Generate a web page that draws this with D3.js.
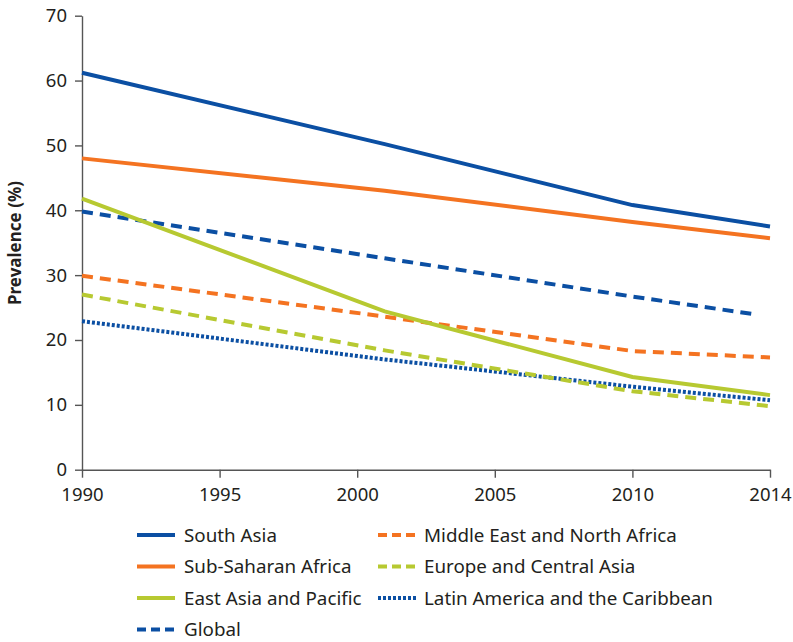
<!DOCTYPE html>
<html><head><meta charset="utf-8">
<script src="https://cdn.jsdelivr.net/npm/d3@7"></script>
<style>body{margin:0;background:#fff}svg{display:block}text{font-family:"Noto Sans",sans-serif;fill:#231f20}</style>
</head><body><svg id="c" width="793" height="642"></svg>
<script>
const tickYears = [1990, 1995, 2000, 2005, 2010, 2014];
const yTicks = [0, 10, 20, 30, 40, 50, 60, 70];
const seriesNames = ["South Asia", "Sub-Saharan Africa", "East Asia and Pacific", "Global",
  "Middle East and North Africa", "Europe and Central Asia", "Latin America and the Caribbean"];
const southAsiaYears = [1990, 2001, 2010, 2014];
const southAsia = [61.2, 50.2, 40.8, 37.5];
const subSaharanYears = [1990, 2001, 2010, 2014];
const subSaharan = [48.0, 43.0, 38.2, 35.7];
const eastAsiaYears = [1990, 2001, 2010, 2014];
const eastAsia = [41.8, 24.4, 14.3, 11.5];
const globalYears = [1990, 2001, 2010, 2013.5];
const globalVals = [39.8, 32.6, 26.7, 24.0];
const menaYears = [1990, 2001, 2010, 2014];
const mena = [29.9, 23.6, 18.3, 17.3];
const ecaYears = [1990, 2001, 2010, 2014];
const eca = [27.0, 18.4, 12.1, 9.8];
const lacYears = [1990, 2001, 2010, 2014];
const lac = [22.9, 17.0, 12.8, 10.7];

const BLUE = "#0b4fa3", ORANGE = "#f47321", GREEN = "#b7c931";
const styles = [
  {c: BLUE, d: null}, {c: ORANGE, d: null}, {c: GREEN, d: null}, {c: BLUE, d: "11,7"},
  {c: ORANGE, d: "11,7"}, {c: GREEN, d: "11,7"}, {c: BLUE, d: "3,2"}
];
const yearsList = [southAsiaYears, subSaharanYears, eastAsiaYears, globalYears, menaYears, ecaYears, lacYears];
const valsList = [southAsia, subSaharan, eastAsia, globalVals, mena, eca, lac];

const svg = d3.select("#c");
const x0 = 82, x1 = 770;
const step = (x1 - x0) / (tickYears.length - 1);
const x = d3.scaleLinear().domain(tickYears).range(tickYears.map((d, i) => x0 + i * step));
const y = d3.scaleLinear().domain([0, 70]).range([469.7, 15.7]);

// axes
const xAxis = svg.append("g").attr("transform", "translate(0,469.7)")
  .call(d3.axisBottom(x).tickValues(tickYears).tickFormat(d3.format("d")).tickSize(8).tickSizeOuter(0).tickPadding(10));
const yAxis = svg.append("g").attr("transform", "translate(82,0)")
  .call(d3.axisLeft(y).tickValues(yTicks).tickSize(7).tickSizeOuter(0).tickPadding(8));
[xAxis, yAxis].forEach(a => {
  a.selectAll("path,line").attr("stroke", "#555").attr("stroke-width", 1.4);
  a.selectAll("text").style("font-size", "18.5px").style("font-family", '"Noto Sans",sans-serif').attr("fill", "#231f20");
});

svg.append("text").attr("transform", "translate(21,243) rotate(-90)").attr("text-anchor", "middle")
  .style("font-size", "17px").style("font-weight", "bold").text("Prevalence (%)");

const line = d3.line().x(d => x(d[0])).y(d => y(d[1]));
// draw order: back to front
const order = [6, 5, 4, 3, 2, 1, 0];
order.forEach(i => {
  const pts = yearsList[i].map((yr, j) => [yr, valsList[i][j]]);
  svg.append("path").datum(pts).attr("d", line).attr("fill", "none")
    .attr("stroke", styles[i].c).attr("stroke-width", 4)
    .attr("stroke-dasharray", styles[i].d);
});

// legend
const legCols = [{lx: 137, tx: 184}, {lx: 378, tx: 424}];
const legItems = [[0, 0, 0], [1, 0, 1], [2, 0, 2], [3, 0, 3], [4, 1, 0], [5, 1, 1], [6, 1, 2]];
legItems.forEach(([i, col, row]) => {
  const yy = 535 + row * 31.5;
  const c = legCols[col];
  svg.append("line").attr("x1", c.lx).attr("x2", c.lx + 38).attr("y1", yy).attr("y2", yy)
    .attr("stroke", styles[i].c).attr("stroke-width", 4).attr("stroke-dasharray", styles[i].d ? (i === 6 ? "3,2" : "9,5") : null);
  svg.append("text").attr("x", c.tx).attr("y", yy).attr("dy", "0.35em").style("font-size", "18.8px").text(seriesNames[i]);
});
</script></body></html>
